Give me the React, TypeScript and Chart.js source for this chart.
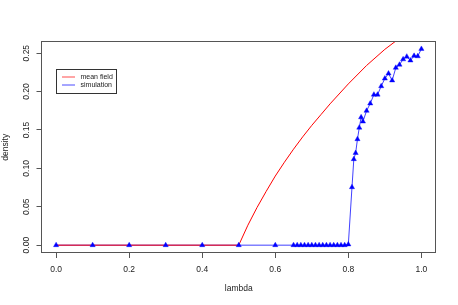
import React, { useEffect, useRef } from "react";
import { Chart, registerables } from "chart.js";

Chart.register(...registerables);

// ---- data ----
const simLambda = [
  0, 0.1, 0.2, 0.3, 0.4, 0.5, 0.6,
  0.65, 0.66, 0.67, 0.68, 0.69, 0.7, 0.71, 0.72, 0.73, 0.74, 0.75, 0.76, 0.77, 0.78, 0.79, 0.8,
  0.81, 0.815, 0.82, 0.825, 0.83, 0.835, 0.84,
  0.85, 0.86, 0.87, 0.88, 0.89, 0.9, 0.91, 0.92, 0.93, 0.94, 0.95, 0.96, 0.97, 0.98, 0.99, 1.0,
];
const simDensity = [
  0, 0, 0, 0, 0, 0, 0,
  0, 0, 0, 0, 0, 0, 0, 0, 0, 0, 0, 0, 0, 0, 0, 0.001,
  0.0755, 0.112, 0.12, 0.138, 0.153, 0.1665, 0.161,
  0.175, 0.1845, 0.196, 0.196, 0.207, 0.217, 0.2235, 0.2145, 0.231, 0.235, 0.242, 0.2455, 0.2405, 0.2465, 0.246, 0.2555,
];
const mfLambda = [
  0, 0.1, 0.2, 0.3, 0.4, 0.5, 0.525, 0.55, 0.575, 0.6, 0.625, 0.65, 0.675, 0.7, 0.725, 0.75,
  0.8, 0.85, 0.9, 0.95, 1.0,
];
const mfDensity = [
  0, 0, 0, 0, 0, 0, 0.026, 0.049, 0.07, 0.09, 0.108, 0.125, 0.141, 0.156, 0.17, 0.184,
  0.21, 0.234, 0.255, 0.273, 0.29,
];

const xTicks = [0, 0.2, 0.4, 0.6, 0.8, 1.0];
const yTicks = [0, 0.05, 0.1, 0.15, 0.2, 0.25];
const legendLabels = ["mean field", "simulation"];
const xTitle = "lambda";
const yTitle = "density";

const FONT = "'Liberation Sans', Arial, Helvetica, sans-serif";
const TEXT = "#222";
const AXIS = "#555";
const RED = "#ff0000";
const BLUE = "#0000ff";
const BLUE_LINE = "rgba(0,0,255,0.75)";

export default function App() {
  const ref = useRef<HTMLCanvasElement>(null);

  useEffect(() => {
    const canvas = ref.current!;
    const framePlugin = {
      id: "rframe",
      afterDraw(chart: any) {
        const { ctx, chartArea: ca } = chart;
        ctx.save();
        ctx.beginPath();
        ctx.strokeStyle = AXIS;
        ctx.lineWidth = 1;
        const l = Math.floor(ca.left) + 0.5;
        const t = Math.floor(ca.top) + 0.5;
        const r = Math.floor(ca.right) - 0.5;
        const b = Math.floor(ca.bottom) - 0.5;
        ctx.strokeRect(l, t, r - l, b - t);
        // legend
        const lx = Math.floor(ca.left + 15) + 0.5;
        const ly = Math.floor(ca.top + 28) + 0.5;
        ctx.fillStyle = "#fff";
        ctx.fillRect(lx, ly, 60, 24);
        ctx.strokeStyle = "#333";
        ctx.strokeRect(lx, ly, 60, 24);
        const colors = [RED, BLUE];
        legendLabels.forEach((lab, i) => {
          const yy = ly + 7.5 + i * 8;
          ctx.strokeStyle = colors[i];
          ctx.globalAlpha = 0.7;
          ctx.lineWidth = 1;
          ctx.beginPath();
          ctx.moveTo(lx + 5.5, yy);
          ctx.lineTo(lx + 18.5, yy);
          ctx.stroke();
          ctx.globalAlpha = 1;
          ctx.fillStyle = TEXT;
          ctx.font = `7px ${FONT}`;
          ctx.textBaseline = "middle";
          ctx.textAlign = "left";
          ctx.fillText(lab, lx + 24, yy);
        });
        ctx.restore();
      },
    };

    const mfPts = mfLambda.map((x, i) => ({ x, y: mfDensity[i] }));
    const simPts = simLambda.map((x, i) => ({ x, y: simDensity[i] }));

    const chart = new Chart(canvas, {
      type: "line",
      data: {
        datasets: [
          {
            label: "simulation points",
            data: simPts,
            showLine: false,
            pointStyle: "triangle",
            pointRadius: 3,
            pointBackgroundColor: BLUE,
            pointBorderColor: BLUE,
            pointBorderWidth: 0.4,
            order: 0,
          },
          {
            label: legendLabels[0],
            data: mfPts,
            borderColor: RED,
            backgroundColor: RED,
            borderWidth: 1,
            pointRadius: 0,
            tension: 0,
            order: 1,
          },
          {
            label: legendLabels[1],
            data: simPts,
            borderColor: BLUE_LINE,
            backgroundColor: BLUE_LINE,
            borderWidth: 1,
            pointRadius: 0,
            tension: 0,
            order: 2,
          },
        ],
      } as any,
      options: {
        animation: false,
        responsive: false,
        devicePixelRatio: 1,
        layout: { padding: { left: 0, top: 41.5, right: 22, bottom: 0 } },
        plugins: { legend: { display: false }, tooltip: { enabled: false } },
        scales: {
          x: {
            type: "linear",
            min: -0.04,
            max: 1.04,
            afterFit: (s: any) => {
              s.height = 52;
            },
            afterBuildTicks: (s: any) => {
              s.ticks = xTicks.map((v) => ({ value: v }));
            },
            ticks: {
              callback: (v: any) => Number(v).toFixed(1),
              font: { family: FONT, size: 8.5 },
              color: TEXT,
              padding: 6.5,
              maxRotation: 0,
              minRotation: 0,
              autoSkip: false,
            },
            grid: { drawOnChartArea: false, drawTicks: true, tickLength: 5, color: AXIS },
            border: { display: false },
            title: {
              display: true,
              text: xTitle,
              font: { family: FONT, size: 8.5 },
              color: TEXT,
              padding: { top: 0, bottom: 11 },
            },
          },
          y: {
            type: "linear",
            min: -0.0102,
            max: 0.2652,
            afterFit: (s: any) => {
              s.width = 41.5;
            },
            afterBuildTicks: (s: any) => {
              s.ticks = yTicks.map((v) => ({ value: v }));
            },
            ticks: {
              callback: (v: any) => Number(v).toFixed(2),
              font: { family: FONT, size: 8.5 },
              color: TEXT,
              padding: 1.5,
              minRotation: 90,
              maxRotation: 90,
              crossAlign: "center",
              autoSkip: false,
            },
            grid: { drawOnChartArea: false, drawTicks: true, tickLength: 5, color: AXIS },
            border: { display: false },
            title: {
              display: true,
              text: yTitle,
              font: { family: FONT, size: 8.5 },
              color: TEXT,
              padding: { top: 1, bottom: 0 },
            },
          },
        },
      } as any,
      plugins: [framePlugin],
    });
    return () => chart.destroy();
  }, []);

  return (
    <div style={{ position: "absolute", left: 0, top: 0, width: 458, height: 305, background: "#fff" }}>
      <canvas ref={ref} width={458} height={305} style={{ width: 458, height: 305, display: "block" }} />
    </div>
  );
}
